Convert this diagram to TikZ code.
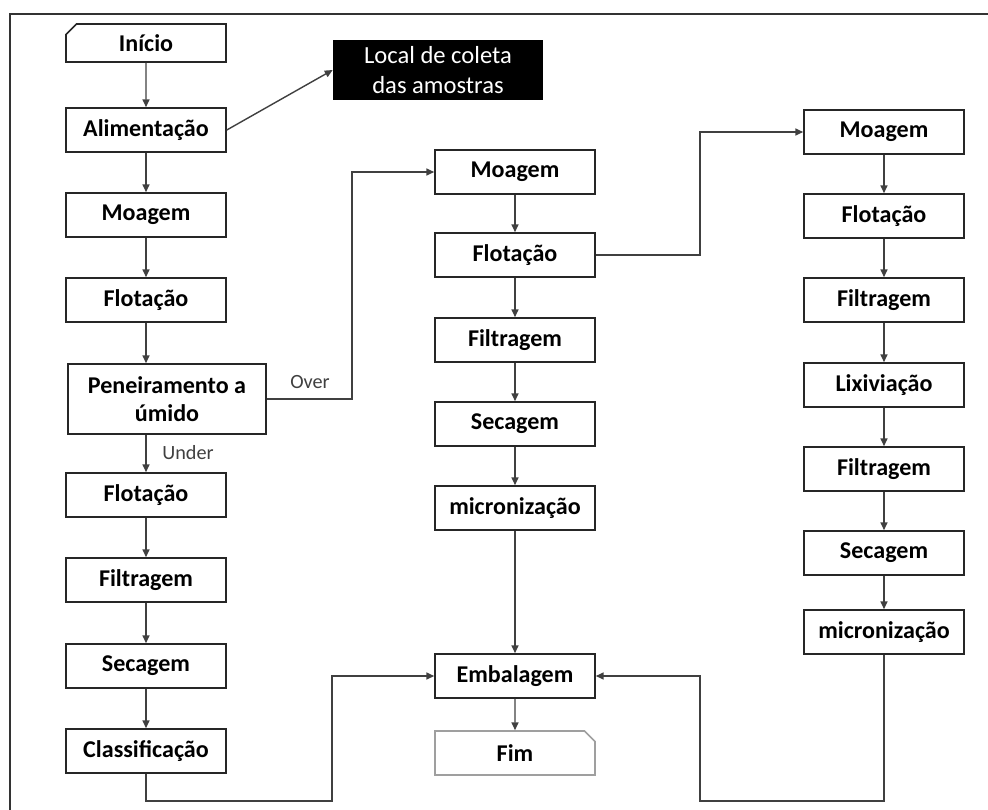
\documentclass[tikz,border=0pt]{standalone}
\usepackage{fontspec}
\setmainfont{Carlito}
\usetikzlibrary{arrows.meta,shapes.misc}
\tikzset{
  stepbox/.style={draw=black!85, line width=0.9pt, fill=white, minimum width=3.2cm,
    minimum height=0.88cm, inner sep=2pt, font=\fontsize{13.7}{16}\selectfont\bfseries},
  cutbox/.style={stepbox, chamfered rectangle, chamfered rectangle xsep=3pt,
    chamfered rectangle ysep=3pt},
  flowline/.style={draw=black!75, line width=0.8pt},
  flowarrow/.style={flowline, -{Triangle[length=4.5pt,width=4pt]}},
  flowlabel/.style={text=black!75, font=\fontsize{11.5}{13}\selectfont},
}
\begin{document}
\begin{tikzpicture}[x=0.02cm,y=-0.02cm]
\useasboundingbox (0,0) rectangle (988,809);

% Frame round the chart
\draw [black!80, line width=1.6pt] (10,815) -- (10,14) -- (995,14);

% Left column
\node [cutbox, chamfered rectangle corners=north west, minimum height=0.76cm] (inicio) at (146,43) {Início};
\node [stepbox] (alim) at (146,130) {Alimentação};
\node [stepbox] (moag1) at (146,215) {Moagem};
\node [stepbox] (flot1) at (146,300) {Flotação};
\node [stepbox, minimum width=3.96cm, minimum height=1.4cm, align=center] (pene) at (167,399) {Peneiramento a\\úmido};
\node [stepbox] (flot2) at (146,495) {Flotação};
\node [stepbox] (filt1) at (146,580) {Filtragem};
\node [stepbox] (sec1) at (146,666) {Secagem};
\node [stepbox] (clas) at (146,751) {Classificação};

% Sampling point
\node [fill=black, text=white, minimum width=4.2cm, minimum height=1.2cm, align=center,
  font=\fontsize{14}{17}\selectfont] (local) at (438,70) {Local de coleta\\das amostras};

% Middle column
\node [stepbox] (moag2) at (515,172) {Moagem};
\node [stepbox] (flot3) at (515,255) {Flotação};
\node [stepbox] (filt2) at (515,340) {Filtragem};
\node [stepbox] (sec2) at (515,424) {Secagem};
\node [stepbox] (micr1) at (515,508) {micronização};
\node [stepbox] (emb) at (515,676) {Embalagem};
\node [cutbox, chamfered rectangle corners=north east, draw=gray!75] (fim) at (515,753) {Fim};

% Right column
\node [stepbox] (moag3) at (884,132) {Moagem};
\node [stepbox] (flot4) at (884,216) {Flotação};
\node [stepbox] (filt3) at (884,300) {Filtragem};
\node [stepbox] (lix) at (884,385) {Lixiviação};
\node [stepbox] (filt4) at (884,469) {Filtragem};
\node [stepbox] (sec3) at (884,553) {Secagem};
\node [stepbox] (micr2) at (884,632) {micronização};

% Straight arrows down the columns
\foreach \a/\b in {inicio/alim, alim/moag1, moag1/flot1, flot2/filt1, filt1/sec1, sec1/clas,
  moag2/flot3, flot3/filt2, filt2/sec2, sec2/micr1, micr1/emb, emb/fim,
  moag3/flot4, flot4/filt3, filt3/lix, lix/filt4, filt4/sec3, sec3/micr2}
  \draw [flowarrow] (\a) -- (\b);
\draw [flowarrow] (flot1) -- (flot1 |- pene.north);
\draw [flowarrow] (flot2 |- pene.south) -- (flot2);

% Sampling arrow
\draw [flowarrow] (alim.east) -- (local.west);

% Bends
\coordinate (overbend) at (352,172);
\coordinate (flotbend) at (700,132);
\coordinate (clasbend) at (332,801);
\coordinate (micrbend) at (700,801);
\draw [flowarrow] (pene.east) -| (overbend) -- (moag2.west);
\draw [flowarrow] (flot3.east) -| (flotbend) -- (moag3.west);
\draw [flowarrow] (clas.south) |- (clasbend) |- (emb.west);
\draw [flowarrow] (micr2.south) |- (micrbend) |- (emb.east);

% Over / Under
\node [flowlabel] (over) at (310,382) {Over};
\node [flowlabel] (under) at (188,453) {Under};
\end{tikzpicture}
\end{document}
